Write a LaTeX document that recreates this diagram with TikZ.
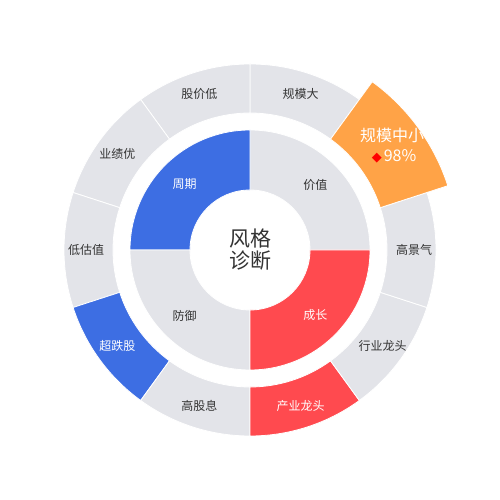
\documentclass[tikz,border=0pt]{standalone}
\usepackage{fontspec}
\setmainfont{Noto Sans CJK SC}
\newfontfamily\symfont{DejaVu Sans}
\definecolor{seggray}{HTML}{E3E4E9}
\definecolor{segblue}{HTML}{3D6EE3}
\definecolor{segred}{HTML}{FF4A4F}
\definecolor{segorange}{HTML}{FFA347}
\definecolor{txtgray}{HTML}{333333}
\newcommand\ringseg[5]{%
  \path[#5] (#1:#3) arc[start angle=#1,end angle=#2,radius=#3]
    -- (#2:#4) arc[start angle=#2,end angle=#1,radius=#4] -- cycle;}
\begin{document}
\begin{tikzpicture}[x=1pt,y=1pt,
  seg/.style={draw=white,line width=0.8pt,line join=round},
  lbl/.style={font=\fontsize{12}{14}\selectfont,text=txtgray,inner sep=0pt},
  wlbl/.style={font=\fontsize{12}{14}\selectfont,text=white,inner sep=0pt}]
\useasboundingbox (0,0) rectangle (500,500);
\begin{scope}[shift={(250,250)}]
  % inner ring
  \ringseg{0}{90}{60}{120}{seg,fill=seggray}
  \ringseg{90}{180}{60}{120}{seg,fill=segblue}
  \ringseg{180}{270}{60}{120}{seg,fill=seggray}
  \ringseg{270}{360}{60}{120}{seg,fill=segred}
  % outer ring
  \ringseg{54}{90}{137}{186}{seg,fill=seggray}
  \ringseg{90}{126}{137}{186}{seg,fill=seggray}
  \ringseg{126}{162}{137}{186}{seg,fill=seggray}
  \ringseg{162}{198}{137}{186}{seg,fill=seggray}
  \ringseg{198}{234}{137}{186}{seg,fill=segblue}
  \ringseg{234}{270}{137}{186}{seg,fill=seggray}
  \ringseg{270}{306}{137}{186}{seg,fill=segred}
  \ringseg{306}{342}{137}{186}{seg,fill=seggray}
  \ringseg{-18}{18}{137}{186}{seg,fill=seggray}
  \ringseg{18}{54}{137}{208}{seg,fill=segorange}
  % inner labels
  \node[lbl]  (jiazhi)   at (45:92.6)  {价值};
  \node[wlbl] (zhouqi)   at (135:92.6) {周期};
  \node[lbl]  (fangyu)   at (225:92.6) {防御};
  \node[wlbl] (chengzhang) at (315:92.6) {成长};
  % outer labels
  \node[lbl]  (guimoda)  at (72:164)  {规模大};
  \node[lbl]  (gujiadi)  at (108:164) {股价低};
  \node[lbl]  (yejiyou)  at (144:164) {业绩优};
  \node[lbl]  (diguzhi)  at (180:164) {低估值};
  \node[wlbl] (chaodie)  at (216:164) {超跌股};
  \node[lbl]  (gaogu)    at (252:164) {高股息};
  \node[wlbl] (chanye)   at (288:164) {产业龙头};
  \node[lbl]  (hangye)   at (324:164) {行业龙头};
  \node[lbl]  (gaojing)  at (0:164)   {高景气};
  % highlighted
  \node[inner sep=0pt,text=white,font=\fontsize{16}{18}\selectfont] (guimozx) at (142,115) {规模中小};
  \node[inner sep=0pt,text=white,font=\fontsize{16}{18}\selectfont,anchor=center] (pct) at (144,94)
    {{\symfont\fontsize{13}{14}\selectfont\textcolor{red}{◆}}\hspace{2pt}98\%};
  % center
  \node[inner sep=0pt,text=txtgray,align=center,font=\fontsize{21}{22}\selectfont] (center) at (0,0) {风格\\诊断};
\end{scope}
\end{tikzpicture}
\end{document}
